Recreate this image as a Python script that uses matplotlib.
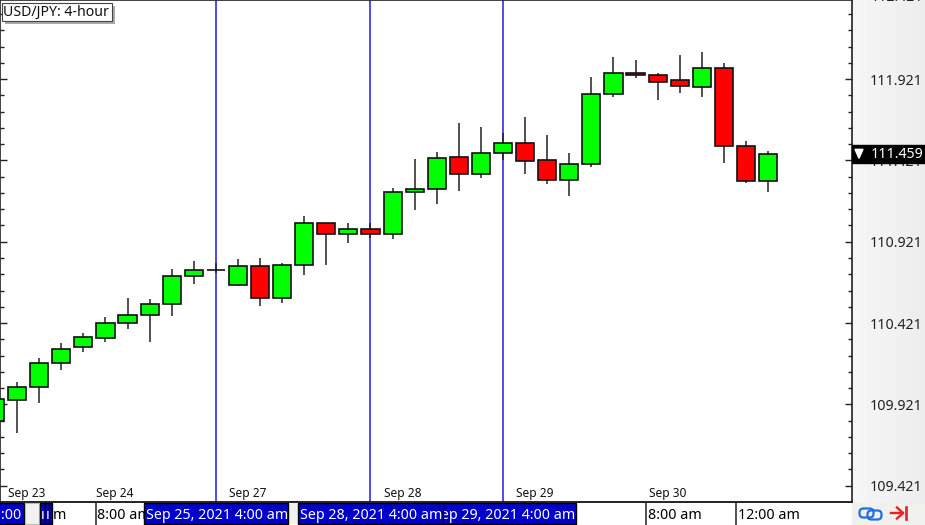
import numpy as np
from matplotlib import pyplot as plt
from matplotlib.patches import Rectangle, FancyBboxPatch, Polygon
from matplotlib.transforms import blended_transform_factory

plt.rcParams['font.family'] = ['Noto Sans', 'DejaVu Sans']

# 4 hour candles
opens = [109.819, 109.946, 110.030, 110.174, 110.272, 110.331, 110.423, 110.469, 110.538, 110.712,
         110.745, 110.657, 110.770, 110.575, 110.778, 111.036, 110.968, 110.999, 110.968, 111.224,
         111.247, 111.443, 111.337, 111.466, 111.526, 111.421, 111.300, 111.397, 111.831, 111.958,
         111.944, 111.913, 111.874, 111.987, 111.511, 111.292]
highs = [109.973, 110.057, 110.208, 110.297, 110.358, 110.456, 110.577, 110.571, 110.751, 110.804,
         110.788, 110.813, 110.819, 110.788, 111.077, 111.036, 111.038, 111.038, 111.249, 111.431,
         111.474, 111.651, 111.628, 111.587, 111.689, 111.575, 111.468, 111.935, 112.058, 112.036,
         111.956, 112.067, 112.089, 112.021, 111.538, 111.477]
lows = [109.745, 109.747, 109.928, 110.133, 110.245, 110.306, 110.383, 110.306, 110.466, 110.663,
        110.727, 110.647, 110.528, 110.543, 110.715, 110.776, 110.911, 110.942, 110.936, 111.116,
        111.153, 111.231, 111.313, 111.423, 111.335, 111.276, 111.200, 111.380, 111.812, 111.925,
        111.790, 111.835, 111.812, 111.403, 111.284, 111.228]
closes = [109.954, 110.030, 110.174, 110.263, 110.333, 110.423, 110.470, 110.536, 110.710, 110.747,
          110.747, 110.770, 110.575, 110.778, 111.036, 110.968, 110.997, 110.968, 111.224, 111.247,
          111.437, 111.337, 111.466, 111.526, 111.419, 111.300, 111.399, 111.831, 111.958, 111.944,
          111.904, 111.876, 111.989, 111.511, 111.292, 111.459]

day_idx = [1, 5, 11, 18, 24, 30]
day_labels = ["Sep 23", "Sep 24", "Sep 27", "Sep 28", "Sep 29", "Sep 30"]
marker_idx = [10, 17, 23]
major_ticks = [109.421, 109.921, 110.421, 110.921, 111.421, 111.921]
top_tick = 112.421  # sits just above the frame, cut by the window
minor_ticks = [round(109.421 + 0.1 * i, 3) for i in range(0, 30) if i % 5 != 0]

W, H = 925, 525
fig = plt.figure(figsize=(W / 100, H / 100), dpi=100)

# gradient panel behind everything
bg = fig.add_axes([0, 0, 1, 1], zorder=0)
bg.imshow(np.linspace(0.965, 0.925, 74).reshape(1, -1), cmap="gray", vmin=0, vmax=1,
          extent=(851, 925, 525, 0), aspect="auto")
bg.set_xlim(0, W)
bg.set_ylim(H, 0)
bg.axis("off")

ax = fig.add_axes([0, 1 - 502 / H, 852 / W, 502 / H], zorder=1)
for s in ax.spines.values():
    s.set_linewidth(1.2)
    s.set_color("#222222")

for m in marker_idx:
    ax.axvline(m, color="#3030e6", lw=1.2, zorder=1)

x = np.arange(len(opens))
o = np.array(opens)
c = np.array(closes)
cols = ["#00ff00" if b >= a else "#ff0000" for a, b in zip(o, c)]
ax.vlines(x, lows, highs, color="#222222", lw=1.1, zorder=2)
ax.bar(x, np.abs(c - o), bottom=np.minimum(o, c), width=0.82, color=cols,
       edgecolor="#111111", linewidth=1.2, zorder=3)

ax.yaxis.tick_right()
ax.set_yticks(major_ticks)
ax.set_yticklabels([f"{v:.3f}" for v in major_ticks], fontsize=10.2, color="#222222")
ax.set_yticks(minor_ticks, minor=True)
ax.tick_params(axis="y", which="major", direction="in", left=True, right=True, length=5.2, width=1, pad=13, color="#222222")
ax.tick_params(axis="y", which="minor", direction="in", left=True, right=True, length=2.6, width=1, color="#222222")
ax.set_xticks([])
# limits last, set_yticks would widen them
ax.set_xlim(0.226, 38.8)
ax.set_ylim(109.321, 112.407)

for i, t in zip(day_idx, day_labels):
    ax.annotate(t, xy=(i, 0), xycoords=ax.get_xaxis_transform(), xytext=(-9, 8), textcoords="offset pixels",
                fontsize=8.6, color="#111111", ha="left", va="center")

tr = blended_transform_factory(ax.transAxes, ax.transData)
ax.text(1 + 19 / 852, top_tick, f"{top_tick:.3f}", transform=tr, fontsize=10.2, color="#222222",
        va="center", ha="left", clip_on=False)

# current price flag
ax.add_patch(Rectangle((1.0, closes[-1] - 0.056), 74 / 852, 0.11, transform=tr, color="black",
                       clip_on=False, zorder=10))
ax.text(1 + 19 / 852, closes[-1], f"{closes[-1]:.3f}", transform=tr, color="white", fontsize=10.2,
        va="center", ha="left", zorder=11, clip_on=False)
ax.add_patch(Polygon([(1 + 3 / 852, closes[-1] + 0.03), (1 + 11 / 852, closes[-1] + 0.03),
                      (1 + 7 / 852, closes[-1] - 0.025)], transform=tr, color="white",
                     clip_on=False, zorder=11))

# strip and overlays in pixel coordinates
top = fig.add_axes([0, 0, 1, 1], zorder=2)
top.set_xlim(0, W)
top.set_ylim(H, 0)
top.axis("off")
top.patch.set_alpha(0)


def box(x0, x1, col, txt=None, tx=None, ha="left", tcol="black", z=2):
    top.add_patch(Rectangle((x0, 503), x1 - x0, 20.5, facecolor=col, edgecolor="black" if col == "#0000c8" else "none",
                            lw=1, zorder=z))
    if txt:
        top.text(tx, 515.5, txt, color=tcol, fontsize=10.25, ha=ha, va="center", zorder=z + 0.1, clip_on=True)


box(0, 852, "white", z=1)
top.plot([0, 852], [502, 502], color="#222222", lw=1.2, zorder=1.5)
box(-2, 24, "#0000c8", ":00", 1, tcol="white")
top.add_patch(Rectangle((25, 503), 14, 21, facecolor="#f2f2f2", edgecolor="#bbbbbb", lw=0.8, zorder=2))
box(40, 44.5, "#0000c8")
box(45, 48.5, "#0000c8")
box(49, 52, "#0000c8")
top.text(41, 515.5, "ı", color="white", fontsize=10.25, ha="left", va="center", zorder=3)
top.text(46, 515.5, "ı", color="white", fontsize=10.25, ha="left", va="center", zorder=3)
top.text(53, 515.5, "m", color="black", fontsize=10.25, ha="left", va="center", zorder=3)
box(97, 150, "white", "8:00 am", 97)
box(288, 298, "#f2f2f2")
box(430, 575.5, "#0000c8", "Sep 29, 2021 4:00 am", 575, ha="right", tcol="white", z=4)
box(144, 288, "#0000c8", "Sep 25, 2021 4:00 am", 146, tcol="white", z=5)
box(298, 443, "#0000c8", "Sep 28, 2021 4:00 am", 300, tcol="white", z=5)
box(647, 735, "white", "8:00 am", 648)
box(736, 851, "white", "12:00 am", 738)
for xl in [95.5, 646, 735.5]:
    top.plot([xl, xl], [503, 525], color="#222222", lw=1.1, zorder=6)
top.add_patch(Rectangle((852, 503), 73, 22, facecolor="#f0f0ec", edgecolor="none", zorder=6))

# link and jump icons
top.add_patch(FancyBboxPatch((861, 510), 11, 6, boxstyle="round,pad=1.5,rounding_size=4", fill=False,
                             edgecolor="#1f6fe0", lw=1.6, zorder=7))
top.add_patch(FancyBboxPatch((869, 512), 11, 6, boxstyle="round,pad=1.5,rounding_size=4", fill=False,
                             edgecolor="#1f6fe0", lw=1.6, zorder=7))
top.plot([891, 903], [513, 513], color="#ee1c25", lw=1.7, zorder=7)
top.plot([897, 903, 897], [507.5, 513, 518.5], color="#ee1c25", lw=1.7, zorder=7)
top.plot([905.5, 905.5], [507, 519], color="#ee1c25", lw=1.9, zorder=7)

# title tag with shadow
top.add_patch(Rectangle((5, 6), 110, 18, facecolor="#aaaaaa", edgecolor="none", zorder=7))
top.add_patch(Rectangle((2, 3), 110, 18, facecolor="white", edgecolor="#444444", lw=0.8, zorder=8))
top.text(3, 12, "USD/JPY: 4-hour", fontsize=10.2, color="#111111", va="center", ha="left", zorder=9)

fig.savefig("out.png", dpi=100)
